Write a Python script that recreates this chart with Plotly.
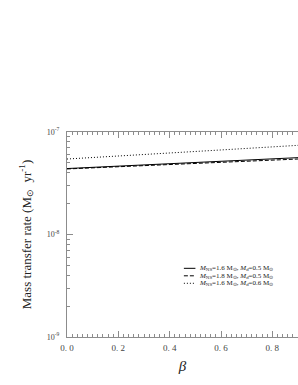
import plotly.graph_objects as go

# ---- data ----
beta = [0.0, 0.3, 0.6, 0.9]
rate_ns16_d05 = [4.40e-8, 4.78e-8, 5.19e-8, 5.62e-8]
rate_ns18_d05 = [4.36e-8, 4.69e-8, 5.05e-8, 5.45e-8]
rate_ns16_d06 = [5.45e-8, 6.00e-8, 6.68e-8, 7.41e-8]

series_names = [
    "<i>M</i><sub>NS</sub>=1.6 M<sub>⊙</sub>, <i>M</i><sub>d</sub>=0.5 M<sub>⊙</sub>",
    "<i>M</i><sub>NS</sub>=1.8 M<sub>⊙</sub>, <i>M</i><sub>d</sub>=0.5 M<sub>⊙</sub>",
    "<i>M</i><sub>NS</sub>=1.6 M<sub>⊙</sub>, <i>M</i><sub>d</sub>=0.6 M<sub>⊙</sub>",
]
series_dash = ["solid", "4px,2px", "1px,2px"]

x_tick_vals = [0.0, 0.2, 0.4, 0.6, 0.8]
x_tick_text = ["0. 0", "0. 2", "0. 4", "0. 6", "0. 8"]
y_tick_vals = [1e-9, 1e-8, 1e-7]
y_tick_text = ["10<sup>-9</sup>", "10<sup>-8</sup>", "10<sup>-7</sup>"]
y_minor_vals = [m * 10.0 ** e for e in (-9, -8) for m in range(2, 10)]

FONT = "Liberation Serif, Times New Roman, serif"
AXIS = "#8c8c8c"

fig = go.Figure()
for name, ys, dash in zip(series_names, [rate_ns16_d05, rate_ns18_d05, rate_ns16_d06], series_dash):
    fig.add_trace(go.Scatter(x=beta, y=ys, mode="lines", name=name,
                             line=dict(color="black", width=1, dash=dash),
                             showlegend=False))

# compact legend (drawn manually to keep the tight row spacing of the original)
leg_rows_y = [0.335, 0.2985, 0.262]
for name, dash, yy in zip(series_names, series_dash, leg_rows_y):
    fig.add_shape(type="line", xref="paper", yref="paper", x0=0.506, x1=0.556, y0=yy, y1=yy,
                  line=dict(color="black", width=1, dash=dash))
    fig.add_annotation(xref="paper", yref="paper", x=0.562, y=yy, text=name, showarrow=False,
                       xanchor="left", yanchor="middle",
                       font=dict(family=FONT, size=7, color="#222"))

fig.update_layout(
    width=298, height=385, autosize=False,
    margin=dict(l=67, r=0, t=132, b=48, autoexpand=False),
    paper_bgcolor="white", plot_bgcolor="white",
    font=dict(family=FONT, color="black"),
)
fig.update_xaxes(
    range=[0, 0.9], showgrid=False, zeroline=False, automargin=False,
    showline=True, linecolor=AXIS, linewidth=1, mirror="ticks",
    ticks="inside", ticklen=6, tickcolor=AXIS, tickwidth=1,
    tickvals=x_tick_vals, ticktext=x_tick_text, ticklabelstandoff=2,
    tickfont=dict(family=FONT, size=9, color="#444"),
    minor=dict(ticks="inside", dtick=0.02, ticklen=3, tickcolor=AXIS, tickwidth=1, showgrid=False),
    title=dict(text="<i>β</i>", font=dict(family=FONT, size=15, color="#222"), standoff=8),
)
fig.update_yaxes(
    type="log", range=[-9, -7], showgrid=False, zeroline=False, automargin=False,
    showline=True, linecolor=AXIS, linewidth=1, mirror=False,
    ticks="inside", ticklen=6, tickcolor=AXIS, tickwidth=1,
    tickvals=y_tick_vals, ticktext=y_tick_text, ticklabelstandoff=5,
    tickfont=dict(family=FONT, size=8, color="#444"),
    minor=dict(ticks="inside", tickvals=y_minor_vals, ticklen=3, tickcolor=AXIS, tickwidth=1, showgrid=False),
    title=dict(text="Mass transfer rate (M<sub>⊙</sub>  yr<sup>-1</sup>)",
               font=dict(family=FONT, size=13, color="#222"), standoff=12),
)

fig.write_html(
    "out.html",
    config={"responsive": False, "displayModeBar": False},
    post_script="document.body.style.margin='0px';document.body.style.overflow='hidden';",
)
